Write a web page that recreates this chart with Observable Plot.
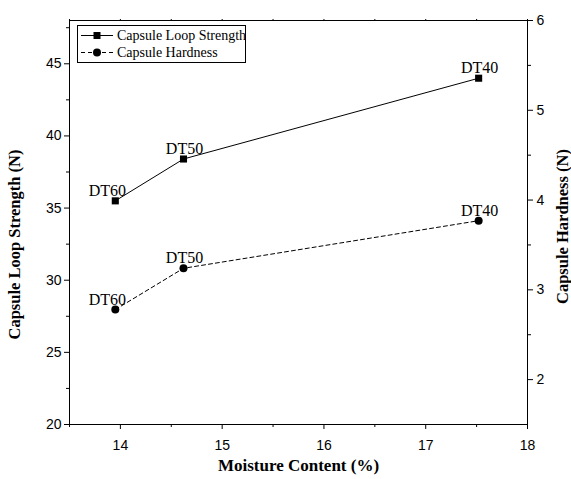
<!DOCTYPE html>
<html><head><meta charset="utf-8">
<script src="https://cdn.jsdelivr.net/npm/d3@7"></script>
<script src="https://cdn.jsdelivr.net/npm/@observablehq/plot@0.6"></script>
<style>
body{margin:0;background:#fff}
#wrap{position:relative;width:571px;height:479px}
#legend{position:absolute;left:77px;top:25px;width:167px;height:36px;border:1px solid #000;background:#fff;font-family:"Liberation Serif","Times New Roman",serif;font-size:14px;color:#000;white-space:nowrap}
#legend .row{position:absolute;left:0;height:17px;display:flex;align-items:center;white-space:nowrap}
#legend svg{display:block}
</style>
</head><body><div id="wrap"></div>
<script>
const samples = ["DT60", "DT50", "DT40"];
const moisture = [13.95, 14.62, 17.52];
const loopStrength = [35.5, 38.4, 44.0];
const hardness = [2.78, 3.24, 3.77];
const xTicks = [14, 15, 16, 17, 18];
const xMinor = [13.5, 14.5, 15.5, 16.5, 17.5];
const leftTicks = [20, 25, 30, 35, 40, 45];
const leftMinor = [22.5, 27.5, 32.5, 37.5, 42.5, 47.5];
const rightTicks = [2, 3, 4, 5, 6];
const rightMinor = [2.5, 3.5, 4.5, 5.5];
const seriesNames = ["Capsule Loop Strength", "Capsule Hardness"];

const xDomain = [13.5, 18];
const yL = [20, 48], yR = [1.5, 6];
const toLeft = h => yL[0] + (h - yR[0]) * (yL[1] - yL[0]) / (yR[1] - yR[0]);
const fromLeft = v => yR[0] + (v - yL[0]) * (yR[1] - yR[0]) / (yL[1] - yL[0]);

const loopData = samples.map((s, i) => ({s, x: moisture[i], y: loopStrength[i]}));
const hardData = samples.map((s, i) => ({s, x: moisture[i], y: toLeft(hardness[i])}));

const sans = "'Liberation Sans', Arial, sans-serif";
const serif = "'Liberation Serif', 'Times New Roman', serif";
const intFmt = d => String(Math.round(d));

const chart = Plot.plot({
  width: 571, height: 479,
  marginLeft: 69, marginRight: 44, marginTop: 20, marginBottom: 55,
  style: {background: "#fff", color: "#000", overflow: "visible"},
  x: {domain: xDomain},
  y: {domain: yL},
  marks: [
    Plot.frame({stroke: "#000"}),
    Plot.axisX({ticks: xTicks, tickFormat: intFmt, tickSize: 5, tickPadding: 11, fontSize: 14, fontFamily: sans, label: null}),
    Plot.axisX({ticks: xMinor, tickSize: 3, tickFormat: () => "", label: null}),
    Plot.axisX({anchor: "top", ticks: xTicks.concat(xMinor), tickSize: 2, tickFormat: () => "", label: null}),
    Plot.axisY({ticks: leftTicks, tickFormat: intFmt, tickSize: 5, tickPadding: 3, fontSize: 14, fontFamily: sans, label: null}),
    Plot.axisY({ticks: leftMinor, tickSize: 3, tickFormat: () => "", label: null}),
    Plot.axisY({anchor: "right", ticks: rightTicks.map(toLeft), tickFormat: v => String(Math.round(fromLeft(v))), tickSize: 5, tickPadding: 4, fontSize: 14, fontFamily: sans, label: null}),
    Plot.axisY({anchor: "right", ticks: rightMinor.map(toLeft), tickSize: 3, tickFormat: () => "", label: null}),
    Plot.text(["Capsule Loop Strength (N)"], {frameAnchor: "left", textAnchor: "middle", rotate: -90, dx: -55, dy: 22, fontSize: 16.5, fontWeight: "bold", fontFamily: serif, fill: "#000"}),
    Plot.text(["Capsule Hardness (N)"], {frameAnchor: "right", textAnchor: "middle", rotate: -90, dx: 35, dy: 4, fontSize: 16.5, fontWeight: "bold", fontFamily: serif, fill: "#000"}),
    Plot.text(["Moisture Content (%)"], {frameAnchor: "bottom", dy: 46, fontSize: 17, fontWeight: "bold", fontFamily: serif, fill: "#000"}),
    Plot.line(loopData, {x: "x", y: "y", stroke: "#000", strokeWidth: 1}),
    Plot.line(hardData, {x: "x", y: "y", stroke: "#000", strokeWidth: 1, strokeDasharray: "4,3"}),
    Plot.dot(loopData, {x: "x", y: "y", symbol: "square", r: 4, fill: "#000", stroke: "none"}),
    Plot.dot(hardData, {x: "x", y: "y", symbol: "circle", r: 4, fill: "#000", stroke: "none"}),
    Plot.text(loopData.filter(d => d.s === "DT60"), {x: "x", y: "y", text: "s", dx: -8, dy: -5, lineAnchor: "bottom", fontSize: 16, fontFamily: serif, fill: "#000"}),
    Plot.text(loopData.filter(d => d.s !== "DT60"), {x: "x", y: "y", text: "s", dx: 1, dy: -5, lineAnchor: "bottom", fontSize: 16, fontFamily: serif, fill: "#000"}),
    Plot.text(hardData.filter(d => d.s === "DT60"), {x: "x", y: "y", text: "s", dx: -8, dy: -5, lineAnchor: "bottom", fontSize: 16, fontFamily: serif, fill: "#000"}),
    Plot.text(hardData.filter(d => d.s !== "DT60"), {x: "x", y: "y", text: "s", dx: 1, dy: -5, lineAnchor: "bottom", fontSize: 16, fontFamily: serif, fill: "#000"})
  ]
});
const wrap = document.getElementById("wrap");
wrap.appendChild(chart);

// Legend overlay
const legend = document.createElement("div");
legend.id = "legend";
const sampleSvg = [
  '<svg width="36" height="17"><line x1="3" y1="8.5" x2="35" y2="8.5" stroke="#000" stroke-width="1"/><rect x="15.5" y="5" width="7" height="7" fill="#000"/></svg>',
  '<svg width="36" height="17"><line x1="3" y1="8.5" x2="35" y2="8.5" stroke="#000" stroke-width="1" stroke-dasharray="4,3"/><circle cx="19" cy="8.5" r="4" fill="#000"/></svg>'
];
seriesNames.forEach((name, i) => {
  const row = document.createElement("div");
  row.className = "row";
  row.style.top = (i * 17 + 1) + "px";
  row.innerHTML = sampleSvg[i] + '<span style="margin-left:3px">' + name + '</span>';
  legend.appendChild(row);
});
wrap.appendChild(legend);
</script>
</body></html>
